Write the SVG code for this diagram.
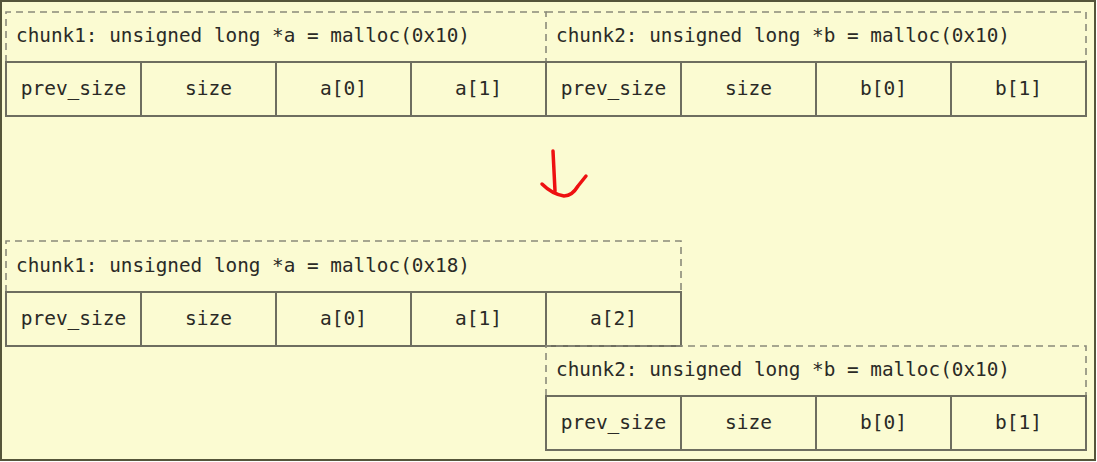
<svg xmlns="http://www.w3.org/2000/svg" width="1097" height="462" viewBox="0 0 1097 462">
<style>
.bg{fill:#fbfbd2;stroke:#55553a;stroke-width:2}
.dash{fill:none;stroke:#8a8a7a;stroke-width:1.6;stroke-dasharray:7,5}
.cell{fill:none;stroke:#6e6e60;stroke-width:2}
.lbl{font-family:"DejaVu Sans Mono","Liberation Mono",monospace;font-size:19.5px;fill:#2a2a26}
.c{text-anchor:middle}
.arrow{fill:none;stroke:#ee1111;stroke-width:3.5;stroke-linecap:round;stroke-linejoin:round}
</style>
<rect class="bg" x="1" y="1" width="1094" height="459"/>

<g id="top-chunk1">
<path class="dash" d="M6,62 V12 H546 V62"/>
<text class="lbl" x="16" y="42" textLength="454" lengthAdjust="spacingAndGlyphs">chunk1: unsigned long *a = malloc(0x10)</text>
<rect class="cell" x="6" y="62" width="540" height="54"/>
<line class="cell" x1="141" y1="62" x2="141" y2="116"/>
<line class="cell" x1="276" y1="62" x2="276" y2="116"/>
<line class="cell" x1="411" y1="62" x2="411" y2="116"/>
<text class="lbl c" x="73.5" y="95">prev_size</text>
<text class="lbl c" x="208.5" y="95">size</text>
<text class="lbl c" x="343.5" y="95">a[0]</text>
<text class="lbl c" x="478.5" y="95">a[1]</text>
</g>

<g id="top-chunk2">
<path class="dash" d="M546,12 H1086 V62"/>
<text class="lbl" x="556" y="42" textLength="454" lengthAdjust="spacingAndGlyphs">chunk2: unsigned long *b = malloc(0x10)</text>
<rect class="cell" x="546" y="62" width="540" height="54"/>
<line class="cell" x1="681" y1="62" x2="681" y2="116"/>
<line class="cell" x1="816" y1="62" x2="816" y2="116"/>
<line class="cell" x1="951" y1="62" x2="951" y2="116"/>
<text class="lbl c" x="613.5" y="95">prev_size</text>
<text class="lbl c" x="748.5" y="95">size</text>
<text class="lbl c" x="883.5" y="95">b[0]</text>
<text class="lbl c" x="1018.5" y="95">b[1]</text>
</g>

<g id="connectors">
<path class="arrow" d="M553,151 L555,191"/>
<path class="arrow" d="M542,184 Q552,194 564,196 Q572,196 578,186 L586,176"/>
</g>

<g id="bottom-chunk1">
<path class="dash" d="M6,292 V241 H681 V292"/>
<text class="lbl" x="16" y="272" textLength="454" lengthAdjust="spacingAndGlyphs">chunk1: unsigned long *a = malloc(0x18)</text>
<rect class="cell" x="6" y="292" width="675" height="54"/>
<line class="cell" x1="141" y1="292" x2="141" y2="346"/>
<line class="cell" x1="276" y1="292" x2="276" y2="346"/>
<line class="cell" x1="411" y1="292" x2="411" y2="346"/>
<line class="cell" x1="546" y1="292" x2="546" y2="346"/>
<text class="lbl c" x="73.5" y="325">prev_size</text>
<text class="lbl c" x="208.5" y="325">size</text>
<text class="lbl c" x="343.5" y="325">a[0]</text>
<text class="lbl c" x="478.5" y="325">a[1]</text>
<text class="lbl c" x="613.5" y="325">a[2]</text>
</g>

<g id="bottom-chunk2">
<path class="dash" d="M546,396 V346 H1086 V396"/>
<text class="lbl" x="556" y="376" textLength="454" lengthAdjust="spacingAndGlyphs">chunk2: unsigned long *b = malloc(0x10)</text>
<rect class="cell" x="546" y="396" width="540" height="54"/>
<line class="cell" x1="681" y1="396" x2="681" y2="450"/>
<line class="cell" x1="816" y1="396" x2="816" y2="450"/>
<line class="cell" x1="951" y1="396" x2="951" y2="450"/>
<text class="lbl c" x="613.5" y="429">prev_size</text>
<text class="lbl c" x="748.5" y="429">size</text>
<text class="lbl c" x="883.5" y="429">b[0]</text>
<text class="lbl c" x="1018.5" y="429">b[1]</text>
</g>
</svg>
